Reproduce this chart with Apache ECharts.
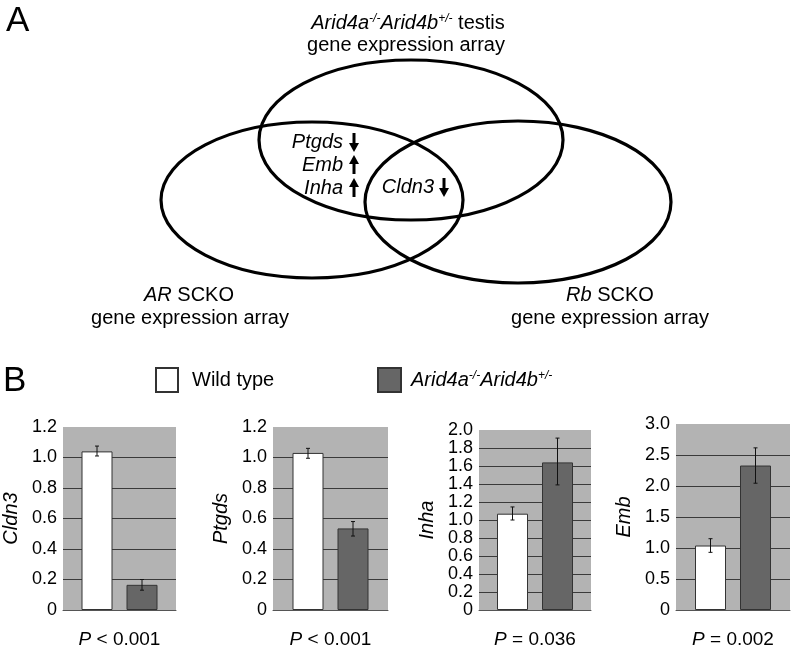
<!DOCTYPE html>
<html>
<head>
<meta charset="utf-8">
<script src="https://cdn.jsdelivr.net/npm/echarts@6/dist/echarts.min.js"></script>
<style>html,body{margin:0;padding:0;background:#fff}#c{width:793px;height:650px}</style>
</head>
<body>
<div id="c"></div>
<script>
// ---------- data ----------
const groups = ['Wild type', 'Arid4a-/-Arid4b+/-'];
const genes = ['Cldn3', 'Ptgds', 'Inha', 'Emb'];
const wtMean = [1.04, 1.03, 1.07, 1.04];
const wtLow  = [1.01, 0.995, 1.00, 0.93];
const wtHigh = [1.075, 1.06, 1.145, 1.15];
const koMean = [0.165, 0.535, 1.64, 2.33];
const koLow  = [0.13, 0.485, 1.39, 2.045];
const koHigh = [0.20, 0.58, 1.91, 2.615];
const pLabels = ['P < 0.001', 'P < 0.001', 'P = 0.036', 'P = 0.002'];
const yMax = [1.2, 1.2, 2.0, 3.0];
const yStep = [0.2, 0.2, 0.2, 0.5];
const vennGenes = ['Ptgds', 'Emb', 'Inha', 'Cldn3'];
const vennDirections = ['down', 'up', 'up', 'down'];

// ---------- layout ----------
const FONT = '"Liberation Sans", Arial, sans-serif';
const grids = [
  {left: 62, top: 427, width: 114, height: 189, nameGap: 42},
  {left: 273, top: 427, width: 115, height: 189, nameGap: 42},
  {left: 479, top: 430, width: 112, height: 189, nameGap: 42},
  {left: 676, top: 424, width: 114, height: 195, nameGap: 42}
];
const BAR_W = 31, BAR_GAP = 14;
const ellipses = [
  {cx: 411, cy: 140, rx: 152, ry: 80},
  {cx: 312, cy: 200, rx: 151, ry: 78},
  {cx: 518, cy: 202, rx: 153, ry: 81}
];
const geneLabelPos = [
  {x: 343, y: 142, ax: 354},
  {x: 343, y: 165, ax: 354},
  {x: 343, y: 188, ax: 354},
  {x: 434, y: 187, ax: 444}
];

const supRich = {
  i: {fontStyle: 'italic', fontSize: 20, fontFamily: FONT, fill: '#000', color: '#000'},
  n: {fontSize: 20, fontFamily: FONT, fill: '#000', color: '#000'},
  s: {fontStyle: 'italic', fontSize: 12, fontFamily: FONT, fill: '#000', color: '#000', verticalAlign: 'top', padding: [0, 0, 8, 0]}
};
const koRichName = '{i|Arid4a}{s|-/-}{i|Arid4b}{s|+/-}';

// ---------- graphic (panel A) ----------
const elements = [];
elements.push({type: 'text', x: 6, y: 21, style: {text: 'A', font: '35px ' + FONT, fill: '#000', align: 'left', verticalAlign: 'middle'}});
elements.push({type: 'text', x: 3, y: 381, style: {text: 'B', font: '35px ' + FONT, fill: '#000', align: 'left', verticalAlign: 'middle'}});
ellipses.forEach(e => elements.push({type: 'ellipse', shape: e, style: {fill: 'none', stroke: '#000', lineWidth: 3.2}}));
elements.push({type: 'text', x: 408, y: 23, style: {text: koRichName + '{n| testis}', rich: supRich, align: 'center', verticalAlign: 'middle'}});
elements.push({type: 'text', x: 406, y: 45, style: {text: 'gene expression array', font: '20px ' + FONT, fill: '#000', align: 'center', verticalAlign: 'middle'}});
elements.push({type: 'text', x: 189, y: 295, style: {text: '{i|AR}{n| SCKO}', rich: supRich, align: 'center', verticalAlign: 'middle'}});
elements.push({type: 'text', x: 190, y: 318, style: {text: 'gene expression array', font: '20px ' + FONT, fill: '#000', align: 'center', verticalAlign: 'middle'}});
elements.push({type: 'text', x: 610, y: 295, style: {text: '{i|Rb}{n| SCKO}', rich: supRich, align: 'center', verticalAlign: 'middle'}});
elements.push({type: 'text', x: 610, y: 318, style: {text: 'gene expression array', font: '20px ' + FONT, fill: '#000', align: 'center', verticalAlign: 'middle'}});
vennGenes.forEach((g, i) => {
  const p = geneLabelPos[i];
  elements.push({type: 'text', x: p.x, y: p.y, style: {text: g, font: 'italic 20px ' + FONT, fill: '#000', align: 'right', verticalAlign: 'middle'}});
  const top = p.y - 9, bot = p.y + 9;
  if (vennDirections[i] === 'down') {
    elements.push({type: 'line', shape: {x1: p.ax, y1: top, x2: p.ax, y2: bot - 7}, style: {stroke: '#000', lineWidth: 3}});
    elements.push({type: 'polygon', shape: {points: [[p.ax - 5, bot - 8], [p.ax + 5, bot - 8], [p.ax, bot + 1]]}, style: {fill: '#000'}});
  } else {
    elements.push({type: 'line', shape: {x1: p.ax, y1: top + 7, x2: p.ax, y2: bot}, style: {stroke: '#000', lineWidth: 3}});
    elements.push({type: 'polygon', shape: {points: [[p.ax - 5, top + 8], [p.ax + 5, top + 8], [p.ax, top - 1]]}, style: {fill: '#000'}});
  }
});

// ---------- charts (panel B) ----------
const grid = [], xAxis = [], yAxis = [], series = [];
genes.forEach((g, i) => {
  const G = grids[i];
  grid.push({left: G.left, top: G.top, width: G.width, height: G.height, show: true, backgroundColor: '#b3b3b3', borderWidth: 0});
  const pl = pLabels[i];
  xAxis.push({
    gridIndex: i, type: 'category', data: [g],
    axisLabel: {show: false}, axisTick: {show: false},
    axisLine: {show: true, lineStyle: {color: '#555', width: 1}},
    name: '{i|' + pl.slice(0, 1) + '}{n|' + pl.slice(1) + '}',
    nameLocation: 'middle', nameGap: 20,
    nameTextStyle: {rich: {i: {fontStyle: 'italic', fontSize: 19, fontFamily: FONT, color: '#000'}, n: {fontSize: 19, fontFamily: FONT, color: '#000'}}}
  });
  yAxis.push({
    gridIndex: i, type: 'value', min: 0, max: yMax[i], interval: yStep[i],
    axisLine: {show: false}, axisTick: {show: false},
    axisLabel: {fontSize: 18, fontFamily: FONT, color: '#000', margin: 6,
      formatter: v => v === 0 ? '0' : v.toFixed(1)},
    splitLine: {show: true, showMaxLine: false, showMinLine: false, lineStyle: {color: '#3a3a3a', width: 1}},
    name: g, nameLocation: 'middle', nameRotate: 90, nameGap: G.nameGap,
    nameTextStyle: {fontStyle: 'italic', fontSize: 20, fontFamily: FONT, color: '#000'}
  });
  series.push({
    name: groups[0], type: 'bar', xAxisIndex: i, yAxisIndex: i, data: [wtMean[i]],
    barWidth: BAR_W, barGap: (BAR_GAP / BAR_W * 100) + '%',
    itemStyle: {color: '#ffffff', borderColor: '#333', borderWidth: 1}, animation: false
  });
  series.push({
    name: groups[1], type: 'bar', xAxisIndex: i, yAxisIndex: i, data: [koMean[i]],
    barWidth: BAR_W, barGap: (BAR_GAP / BAR_W * 100) + '%',
    itemStyle: {color: '#666666', borderColor: '#333', borderWidth: 1}, animation: false
  });
  const errData = [[0, wtLow[i], wtHigh[i], -1], [0, koLow[i], koHigh[i], 1]];
  series.push({
    name: 'err' + i, type: 'custom', xAxisIndex: i, yAxisIndex: i, data: errData, z: 10,
    encode: {x: 0, y: [1, 2]}, animation: false, silent: true,
    renderItem: (params, api) => {
      const side = api.value(3);
      const lo = api.coord([0, api.value(1)]);
      const hi = api.coord([0, api.value(2)]);
      const x = lo[0] + side * (BAR_W + BAR_GAP) / 2;
      const st = {stroke: '#111', lineWidth: 1};
      return {type: 'group', children: [
        {type: 'line', shape: {x1: x, y1: lo[1], x2: x, y2: hi[1]}, style: st},
        {type: 'line', shape: {x1: x - 2, y1: lo[1], x2: x + 2, y2: lo[1]}, style: st},
        {type: 'line', shape: {x1: x - 2, y1: hi[1], x2: x + 2, y2: hi[1]}, style: st}
      ]};
    }
  });
});

const chart = echarts.init(document.getElementById('c'), null, {renderer: 'canvas'});
chart.setOption({
  animation: false,
  backgroundColor: '#fff',
  textStyle: {fontFamily: FONT},
  legend: [
    {data: [groups[0]], left: 155, top: 367, padding: 0, itemWidth: 22, itemHeight: 24, icon: 'rect',
      textStyle: {fontSize: 20, fontFamily: FONT, color: '#000', padding: [0, 0, 0, 9]}, selectedMode: false},
    {data: [groups[1]], left: 377, top: 367, padding: 0, itemWidth: 23, itemHeight: 24, icon: 'rect',
      formatter: () => koRichName, selectedMode: false,
      textStyle: {fontSize: 20, fontFamily: FONT, color: '#000', padding: [0, 0, 0, 5],
        rich: {i: {fontStyle: 'italic', fontSize: 20, fontFamily: FONT, color: '#000'},
               s: {fontStyle: 'italic', fontSize: 12, fontFamily: FONT, color: '#000', verticalAlign: 'top', padding: [0, 0, 8, 0]}}}}
  ],
  grid, xAxis, yAxis, series,
  graphic: {elements}
});
</script>
</body>
</html>
